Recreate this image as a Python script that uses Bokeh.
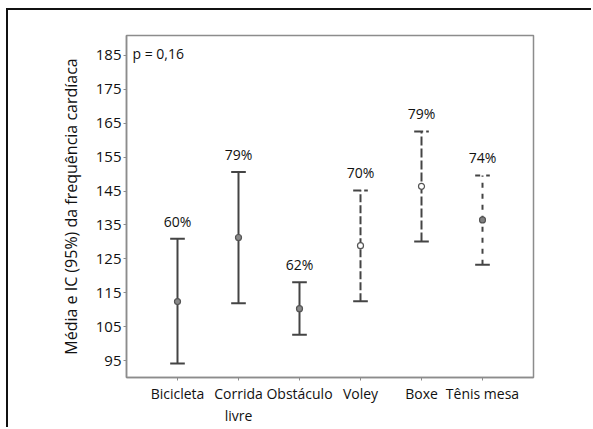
from bokeh.plotting import figure
from bokeh.models import ColumnDataSource, FixedTicker, Range1d
from bokeh.core.properties import value
from bokeh.embed import file_html
from bokeh.resources import INLINE

# Heart-rate mean and 95% CI by sport
sports = ["Bicicleta", "Corrida\nlivre", "Obstáculo", "Voley", "Boxe", "Tênis mesa"]
mean_hr = [112.4, 131.3, 110.3, 128.9, 146.4, 136.5]
ci_low = [94.1, 111.9, 102.6, 112.5, 130.1, 123.3]
ci_high = [130.9, 150.6, 118.1, 145.2, 162.6, 149.6]
pct_labels = ["60%", "79%", "62%", "70%", "79%", "74%"]
y_ticks = [95, 105, 115, 125, 135, 145, 155, 165, 175, 185]
p_value_text = "p = 0,16"

# per-series line styling
dashes = ["solid", "solid", "solid", "8 3", "9 3", "5 6"]
marker_fill = ["#8a8a8a", "#8a8a8a", "#8a8a8a", "#ffffff", "#ffffff", "#808080"]

FONT = "Open Sans"
LINE = "#444444"

xs = list(range(len(sports)))

p = figure(width=585, height=419, output_backend="svg", toolbar_location=None,
           x_range=Range1d(-0.836, len(sports) - 1 + 0.836),
           y_range=Range1d(90.0, 190.9),
           min_border_left=118, min_border_top=25, min_border_right=60,
           min_border_bottom=52)
p.margin = (8, 0, 0, 6)
p.styles = {"border-top": "2px solid #111111", "border-left": "2px solid #111111"}

p.grid.visible = False
p.outline_line_color = "#8c8c8c"
p.outline_line_width = 1.5
p.background_fill_color = "white"
p.border_fill_color = "white"

# axes
p.xaxis.ticker = FixedTicker(ticks=xs)
p.xaxis.major_label_overrides = {i: s for i, s in enumerate(sports)}
p.yaxis.ticker = FixedTicker(ticks=y_ticks)
for ax in (p.xaxis[0], p.yaxis[0]):
    ax.axis_line_color = "#8c8c8c"
    ax.axis_line_width = 1.5
    ax.major_tick_line_color = "#8c8c8c"
    ax.major_tick_in = 0
    ax.major_tick_out = 3
    ax.minor_tick_line_color = None
    ax.major_label_text_font = FONT
    ax.major_label_text_color = "#111111"
p.xaxis.major_label_text_font_size = "14px"
p.xaxis.major_label_standoff = 3
p.yaxis.major_label_text_font_size = "15px"
p.yaxis.major_label_standoff = 2
p.yaxis.axis_label = "Média e IC (95%) da frequência cardíaca"
p.yaxis.axis_label_text_font = FONT
p.yaxis.axis_label_text_font_style = "normal"
p.yaxis.axis_label_text_font_size = "16px"
p.yaxis.axis_label_text_color = "#111111"
p.yaxis.axis_label_standoff = 11

cap = 0.12
for i in xs:
    src = ColumnDataSource(dict(x=[xs[i]], lo=[ci_low[i]], hi=[ci_high[i]],
                                m=[mean_hr[i]], lab=[pct_labels[i]],
                                xl=[xs[i] - cap], xr=[xs[i] + cap]))
    p.segment(x0="x", y0="lo", x1="x", y1="hi", source=src,
              line_color=LINE, line_width=2, line_dash=dashes[i])
    p.segment(x0="xl", y0="hi", x1="xr", y1="hi", source=src,
              line_color=LINE, line_width=2, line_dash=dashes[i])
    p.segment(x0="xl", y0="lo", x1="xr", y1="lo", source=src,
              line_color=LINE, line_width=2)
    p.scatter(x="x", y="m", source=src, size=6, marker="circle",
              fill_color=marker_fill[i], line_color="#555555", line_width=1.2)
    p.text(x="x", y="hi", text="lab", source=src, text_align="center",
           text_baseline="bottom", y_offset=-8, text_font=value(FONT),
           text_font_size="14px", text_color="#111111")

p.text(x=[-0.836], y=[190.9], text=[p_value_text], x_offset=6, y_offset=18,
       text_align="left", text_baseline="middle", text_font=value(FONT),
       text_font_size="14px", text_color="#111111")

open("out.html", "w").write(file_html(p, INLINE))
